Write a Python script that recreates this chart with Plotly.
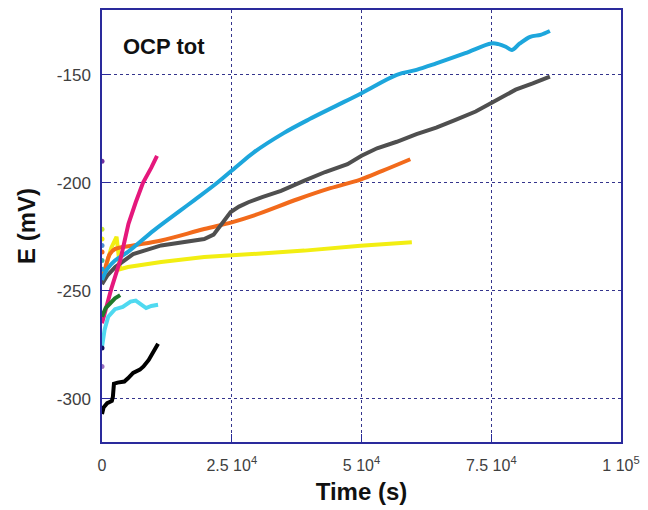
import plotly.graph_objects as go

# ---- data (time in s, potential in mV) ----
blue_t = [0, 1000, 2500, 5000, 10000, 15000, 17800, 22200, 26400, 29200, 35000, 40000, 45000, 50000, 56800, 60600, 64400, 70000, 75000, 76400, 77800, 79000, 80500, 82500, 84500, 86300]
blue_E = [-245, -240, -236, -232, -222, -213, -208, -200, -191.5, -186, -177, -170.5, -164.5, -158.5, -150, -147.7, -144.7, -140, -135.5, -135.8, -137, -138.5, -135.5, -132.4, -131.5, -129.7]

gray_t = [0, 1000, 2550, 6000, 11400, 16000, 19700, 21500, 22900, 24800, 26400, 28200, 31000, 34500, 39000, 43000, 47300, 50000, 53000, 56800, 60600, 64400, 68000, 72000, 75000, 79700, 83000, 86300]
gray_E = [-247, -243, -239, -233, -229, -227.5, -226, -224, -219.8, -213.5, -211, -209, -206.5, -203.7, -199, -195, -191.4, -187.5, -184, -181, -177.5, -174.5, -171, -167, -163.1, -156.9, -154, -150.8]

orange_t = [0, 800, 1500, 2550, 6000, 11400, 19700, 25000, 29200, 37800, 44000, 49800, 54000, 59400]
orange_E = [-246, -238, -233, -230.6, -229, -226.7, -221.4, -218.3, -215.2, -207.5, -202.5, -198.5, -194.5, -189.1]

yellow_t = [0, 1000, 1800, 2800, 3500, 5000, 11400, 19700, 29200, 39000, 49800, 59700]
yellow_E = [-245, -236, -230, -225, -240, -239, -236.7, -234.4, -232.9, -231.4, -229.1, -227.5]

pink_t = [0, 800, 1800, 3500, 5100, 6500, 7900, 9500, 10600]
pink_E = [-265, -258, -249, -236, -219, -209, -200, -193, -187.5]

cyan_t = [0, 500, 1200, 2500, 4000, 5500, 6500, 7500, 8500, 9500, 10800]
cyan_E = [-276, -268, -262, -258.5, -257.5, -255, -254.5, -256, -258, -257, -256.5]

green_t = [0, 700, 1500, 2500, 3500]
green_E = [-262, -258, -256, -253.5, -252]

black_t = [0, 300, 1000, 1900, 2100, 2300, 3000, 4300, 5000, 6000, 7300, 8000, 9000, 9800, 10800]
black_E = [-307, -304, -302, -301, -299, -293, -292.5, -292, -290.5, -288, -286.5, -285, -282, -279, -274.5]

start_t = [0, 0, 0, 0, 0, 0, 0, 0, 0, 0]
start_E = [-190, -221.5, -226, -229, -232, -236, -240, -276.5, -285, -271]

x_tickvals = [0, 25000, 50000, 75000, 100000]
x_ticktext = ["0", "2.5 10<sup>4</sup>", "5 10<sup>4</sup>", "7.5 10<sup>4</sup>", "1 10<sup>5</sup>"]
y_tickvals = [-300, -250, -200, -150]
y_ticktext = ["-300", "-250", "-200", "-150"]

# ---- styles ----
series = [
    (yellow_t, yellow_E, "#f2ee12", "linear"),
    (orange_t, orange_E, "#f26a1b", "spline"),
    (gray_t, gray_E, "#4f4f4f", "linear"),
    (blue_t, blue_E, "#1da6dc", "spline"),
    (pink_t, pink_E, "#e5187c", "linear"),
    (cyan_t, cyan_E, "#4fd9f0", "linear"),
    (green_t, green_E, "#1f7a2a", "linear"),
    (black_t, black_E, "#000000", "linear"),
]
start_colors = ["#7030a0", "#c8e632", "#f2ee12", "#4f8fd0", "#f26a1b", "#38b0a0", "#1da6dc", "#101060", "#9a70c0", "#4fd9f0"]

fig = go.Figure()
for t, e, c, shp in series:
    fig.add_trace(go.Scatter(x=t, y=e, mode="lines", line=dict(color=c, width=4, shape=shp),
                             showlegend=False, hoverinfo="skip"))
fig.add_trace(go.Scatter(x=start_t, y=start_E, mode="markers",
                         marker=dict(color=start_colors, size=5), showlegend=False))

navy = "#2a2a9c"
font_fam = "Arial, Liberation Sans, sans-serif"
fig.update_xaxes(range=[0, 100000], tickvals=x_tickvals, ticktext=x_ticktext,
                 showline=True, linecolor=navy, linewidth=1.5, mirror=True,
                 ticks="inside", ticklen=8, tickcolor=navy,
                 showgrid=True, gridcolor="#34348c", griddash="dot", gridwidth=1,
                 zeroline=False, ticklabelstandoff=8,
                 tickfont=dict(family=font_fam, size=16, color="#404040"),
                 title=dict(text="<b>Time (s)</b>", font=dict(family=font_fam, size=24, color="#111111"), standoff=10))
fig.update_yaxes(range=[-320, -120], tickvals=y_tickvals, ticktext=y_ticktext,
                 showline=True, linecolor=navy, linewidth=1.5, mirror=True,
                 ticks="inside", ticklen=8, tickcolor=navy,
                 showgrid=True, gridcolor="#34348c", griddash="dot", gridwidth=1,
                 zeroline=False, ticklabelstandoff=6,
                 tickfont=dict(family=font_fam, size=17, color="#404040"),
                 title=dict(text="<b>E (mV)</b>", font=dict(family=font_fam, size=24, color="#111111"), standoff=14))

fig.add_annotation(x=0.036, y=0.915, xref="paper", yref="paper", xanchor="left", yanchor="middle",
                   text="<b>OCP tot</b>", showarrow=False,
                   font=dict(family=font_fam, size=22, color="#111111"))

fig.update_layout(width=648, height=510, paper_bgcolor="white", plot_bgcolor="white",
                  margin=dict(l=102, r=21, t=8, b=68))

fig.write_html("out.html")
